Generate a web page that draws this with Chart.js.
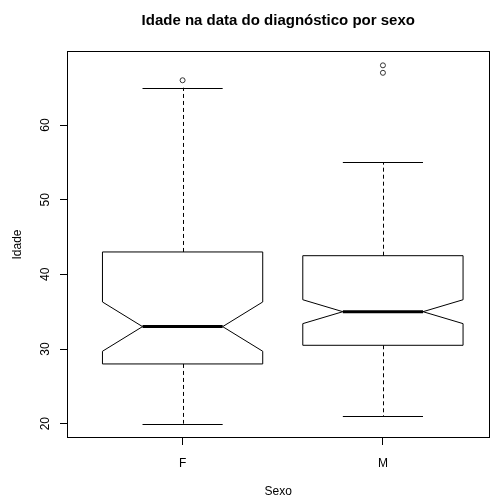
<!DOCTYPE html>
<html>
<head>
<meta charset="utf-8">
<script src="https://cdn.jsdelivr.net/npm/chart.js@4/dist/chart.umd.min.js"></script>
<style>
  html, body { margin: 0; padding: 0; background: #fff; }
  #wrap { width: 493px; height: 499px; }
</style>
</head>
<body>
<div id="wrap"><canvas id="chart" width="493" height="499"></canvas></div>
<script>
// dados
const sexo = ["F", "M"];
const posX = [1, 2];
const bigodeInf = [20, 21];
const q1 = [28, 30.5];
const mediana = [33, 35];
const q3 = [43, 42.5];
const bigodeSup = [65, 55];
const entalheInf = [29.7, 33.4];
const entalheSup = [36.3, 36.6];
const outliers = [[66], [67, 68]];
const yTicks = [20, 30, 40, 50, 60];

const FONT = "'Liberation Sans', Arial, sans-serif";

const pontos = [];
outliers.forEach((lista, i) => {
  lista.forEach((v) => pontos.push({x: posX[i], y: v}));
});

// desenha as caixas com entalhe usando as escalas do chart
const boxPlugin = {
  id: "boxes",
  afterDatasetsDraw(chart) {
    const ctx = chart.ctx;
    const x = chart.scales.x;
    const y = chart.scales.y;
    const area = chart.chartArea;
    ctx.save();
    ctx.strokeStyle = "#000";
    ctx.lineWidth = 1;
    posX.forEach((p, i) => {
      const xl = x.getPixelForValue(p - 0.4);
      const xr = x.getPixelForValue(p + 0.4);
      const nl = x.getPixelForValue(p - 0.2);
      const nr = x.getPixelForValue(p + 0.2);
      const xc = Math.round(x.getPixelForValue(p)) + 0.5;
      const yq1 = y.getPixelForValue(q1[i]);
      const yq3 = y.getPixelForValue(q3[i]);
      const yMed = y.getPixelForValue(mediana[i]);
      const yNl = y.getPixelForValue(entalheInf[i]);
      const yNh = y.getPixelForValue(entalheSup[i]);
      const yLo = y.getPixelForValue(bigodeInf[i]);
      const yHi = y.getPixelForValue(bigodeSup[i]);

      // bigodes tracejados
      ctx.setLineDash([4, 3]);
      ctx.beginPath();
      ctx.moveTo(xc, yq3);
      ctx.lineTo(xc, yHi);
      ctx.moveTo(xc, yq1);
      ctx.lineTo(xc, yLo);
      ctx.stroke();
      ctx.setLineDash([]);

      // hastes
      ctx.beginPath();
      ctx.moveTo(nl, Math.round(yHi) + 0.5);
      ctx.lineTo(nr, Math.round(yHi) + 0.5);
      ctx.moveTo(nl, Math.round(yLo) + 0.5);
      ctx.lineTo(nr, Math.round(yLo) + 0.5);
      ctx.stroke();

      // caixa com entalhe
      ctx.beginPath();
      ctx.moveTo(xl, yq1);
      ctx.lineTo(xl, yNl);
      ctx.lineTo(nl, yMed);
      ctx.lineTo(xl, yNh);
      ctx.lineTo(xl, yq3);
      ctx.lineTo(xr, yq3);
      ctx.lineTo(xr, yNh);
      ctx.lineTo(nr, yMed);
      ctx.lineTo(xr, yNl);
      ctx.lineTo(xr, yq1);
      ctx.closePath();
      ctx.stroke();

      // mediana
      ctx.lineWidth = 3;
      ctx.beginPath();
      ctx.moveTo(nl, yMed);
      ctx.lineTo(nr, yMed);
      ctx.stroke();
      ctx.lineWidth = 1;
    });

    // moldura
    ctx.strokeRect(Math.round(area.left) + 0.5, Math.round(area.top) + 0.5,
      Math.round(area.right - area.left) - 1, Math.round(area.bottom - area.top) - 1);

    // rótulos do eixo y rotacionados
    ctx.fillStyle = "#000";
    ctx.font = "12px " + FONT;
    ctx.textAlign = "center";
    ctx.textBaseline = "middle";
    yTicks.forEach((v) => {
      ctx.save();
      ctx.translate(area.left - 21, y.getPixelForValue(v));
      ctx.rotate(-Math.PI / 2);
      ctx.fillText(String(v), 0, 0);
      ctx.restore();
    });
    ctx.restore();
  },
};

new Chart(document.getElementById("chart"), {
  type: "scatter",
  data: {
    datasets: [
      {
        data: pontos,
        pointStyle: "circle",
        pointRadius: 2.5,
        pointHoverRadius: 2.5,
        backgroundColor: "rgba(0,0,0,0)",
        borderColor: "#333",
        borderWidth: 1,
      },
    ],
  },
  options: {
    responsive: false,
    animation: false,
    layout: {padding: {top: 0, right: 2, left: 0, bottom: 0}},
    scales: {
      x: {
        type: "linear",
        min: 0.423,
        max: 2.532,
        afterBuildTicks: (axis) => {
          axis.ticks = posX.map((v) => ({value: v}));
        },
        afterFit: (scale) => {
          scale.height = 61;
        },
        border: {display: false},
        grid: {drawOnChartArea: false, drawTicks: true, tickLength: 7, color: "#000"},
        ticks: {
          color: "#000",
          padding: 11,
          font: {family: FONT, size: 12},
          maxRotation: 0,
          callback: (v) => sexo[posX.indexOf(v)],
        },
        title: {
          display: true,
          text: "Sexo",
          color: "#000",
          font: {family: FONT, size: 12},
          padding: {top: 0, bottom: 0},
        },
      },
      y: {
        min: 18.08,
        max: 69.92,
        afterBuildTicks: (axis) => {
          axis.ticks = yTicks.map((v) => ({value: v}));
        },
        afterFit: (scale) => {
          scale.width = 67;
        },
        border: {display: false},
        grid: {drawOnChartArea: false, drawTicks: true, tickLength: 7, color: "#000"},
        ticks: {display: false},
        title: {
          display: true,
          text: "Idade",
          color: "#000",
          font: {family: FONT, size: 12},
          padding: {top: 10, bottom: 0},
        },
      },
    },
    plugins: {
      legend: {display: false},
      tooltip: {enabled: false},
      title: {
        display: true,
        fullSize: false,
        text: "Idade na data do diagnóstico por sexo",
        color: "#000",
        font: {family: FONT, size: 15, weight: "bold"},
        padding: {top: 12, bottom: 21},
      },
    },
  },
  plugins: [boxPlugin],
});
</script>
</body>
</html>
